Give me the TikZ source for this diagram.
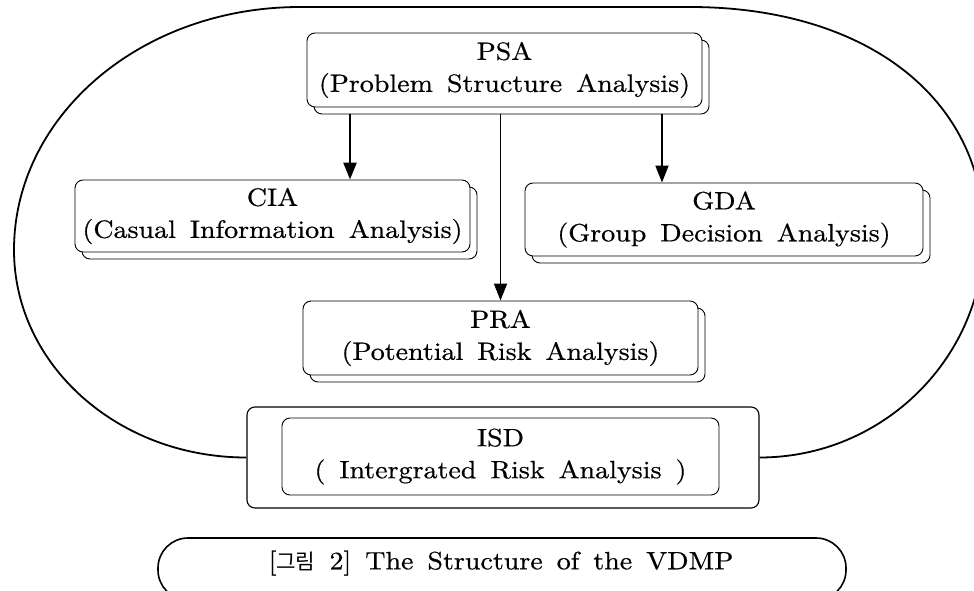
\documentclass[tikz,border=0pt]{standalone}
\usepackage{fontspec}
\setmainfont{lmroman10-regular.otf}[FakeStretch=1.12, WordSpace=1.5, FakeBold=0.6]
\newfontfamily\krfont{Noto Sans CJK KR}[Scale=0.85]
\usetikzlibrary{arrows.meta,shadows,backgrounds}
\begin{document}
\begin{tikzpicture}[x=1pt,y=-1pt,
  txt/.style={font=\fontsize{25}{32}\selectfont},
  box/.style={draw, line width=0.9pt, rounded corners=8pt, fill=white, inner sep=0pt, align=center, txt},
  shadowbox/.style={box, general shadow={shadow xshift=7pt, shadow yshift=-7pt, draw=black, fill=white, line width=0.9pt}},
  arr/.style={-{Triangle[width=13pt,length=17pt]}, line width=1.8pt},
  arrthick/.style={arr, line width=2.6pt},
  oval/.style={line width=1.8pt}]
\useasboundingbox (0,0) rectangle (974,591);
\clip (0,0) rectangle (974,591);

\node[shadowbox, minimum width=395pt, minimum height=74pt] (psa) at (504.5,70) {PSA\\(Problem Structure Analysis)};
\node[shadowbox, minimum width=395pt, minimum height=72pt] (cia) at (272.5,216) {CIA\\(Casual Information Analysis)};
\node[shadowbox, minimum width=398pt, minimum height=73pt] (gda) at (724,219.5) {GDA\\(Group Decision Analysis)};
\node[shadowbox, minimum width=395pt, minimum height=74pt] (pra) at (500.5,338) {PRA\\(Potential Risk Analysis)};
\node[box, line width=1.1pt, minimum width=512pt, minimum height=101pt] (isdout) at (503,457.5) {};
\node[box, minimum width=437pt, minimum height=77pt] (isd) at (500.5,456.5) {ISD\\( Intergrated Risk Analysis )};

\begin{pgfonlayer}{background}
\draw[arrthick] (psa.south -| 350,0) -- (cia.north -| 350,0);
\draw[arr] (pra.north |- psa.south) -- (pra.north);
\draw[arr] (psa.south -| 662,0) -- (gda.north -| 662,0);
\end{pgfonlayer}

\draw[oval] (isdout.west) .. controls (117,457.5) and (14,364) .. (14,250)
  .. controls (14,116) and (141,7) .. (300,7) -- (690,7)
  .. controls (866,7) and (984,98) .. (984,235)
  .. controls (984,358) and (883,457.5) .. (isdout.east);

\node[draw, line width=1.6pt, rounded corners=30pt, minimum width=688pt, minimum height=62pt] (capbox) at (502,569) {};
\node[txt] (cap) at (501,563) {[{\krfont 그림} 2] The Structure of the VDMP};
\end{tikzpicture}
\end{document}
